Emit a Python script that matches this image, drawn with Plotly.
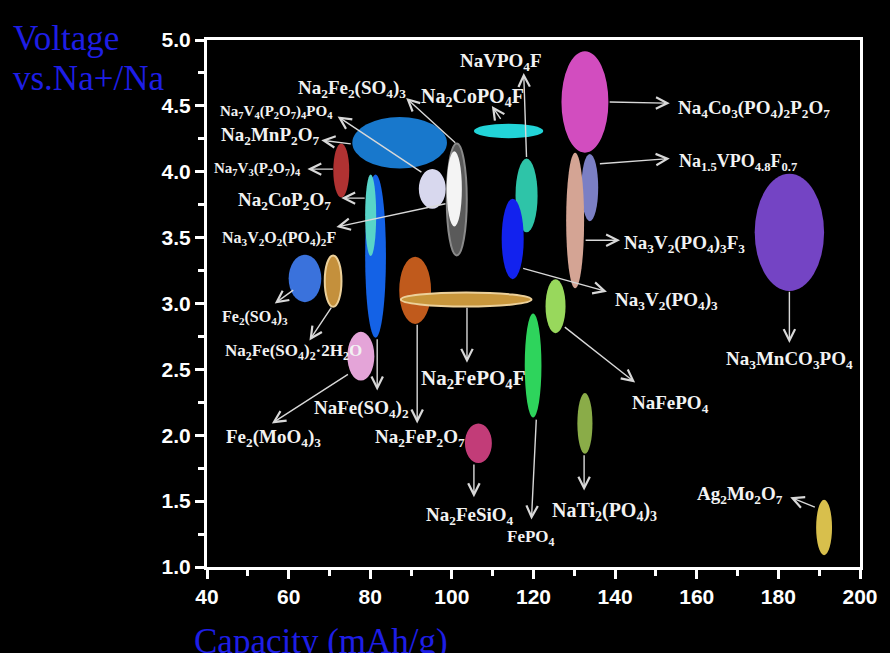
import plotly.graph_objects as go

# Sodium-ion electrode materials: capacity (mAh/g) vs. voltage (V vs. Na+/Na).
# Each material is drawn as an ellipse centred on its typical values, whose
# extents show the spread of capacity and voltage.
materials = [
    "Na4Co3(PO4)2P2O7", "Na1.5VPO4.8F0.7", "Na3V2(PO4)3F3", "Na3MnCO3PO4",
    "Na2CoPO4F", "NaVPO4F", "Na3V2(PO4)3", "NaFePO4", "FePO4", "NaTi2(PO4)3",
    "Ag2Mo2O7", "Na2FeSiO4", "Na2FeP2O7", "Na2FePO4F", "NaFe(SO4)2",
    "Na2CoP2O7", "Na2MnP2O7", "Na7V3(P2O7)4", "Na7V4(P2O7)4PO4",
    "Na2Fe2(SO4)3", "Na3V2O2(PO4)2F", "Fe2(SO4)3", "Na2Fe(SO4)2·2H2O",
    "Fe2(MoO4)3",
]
capacity = [132.6, 133.8, 130.2, 182.7, 113.9, 118.3, 114.9, 125.4, 119.9, 132.6,
            191.2, 106.5, 91.0, 103.5, 81.3, 80.1, 87.2, 72.9, 95.2, 101.2,
            100.6, 64.0, 70.9, 77.7]
voltage = [4.53, 3.88, 3.63, 3.54, 4.31, 3.82, 3.49, 2.98, 2.53, 2.09,
           1.30, 1.94, 3.10, 3.03, 3.36, 3.67, 4.22, 4.01, 3.87, 3.79,
           3.87, 3.19, 3.17, 2.60]
capacity_spread = [11.5, 4.1, 4.4, 17.0, 17.0, 5.4, 5.4, 4.9, 4.1, 3.7,
                   3.9, 6.6, 7.8, 32.0, 5.1, 2.7, 23.2, 3.9, 6.6, 4.9,
                   3.7, 8.0, 4.1, 6.6]
voltage_spread = [0.77, 0.51, 1.03, 0.89, 0.11, 0.56, 0.61, 0.41, 0.79, 0.46,
                  0.42, 0.30, 0.51, 0.106, 1.24, 0.62, 0.39, 0.41, 0.30, 0.85,
                  0.57, 0.36, 0.39, 0.37]

# Styling for each ellipse
fill_colors = ["#d24dbf", "#7b7fc4", "#d4a494", "#7444c4", "#22d4d8", "#2ec4a8",
               "#1222ee", "#98d85c", "#2ed45c", "#8aac48", "#d8bf4c", "#c23c78",
               "#c05a1c", "#c8963c", "#1462e6", "#58d4c8", "#1878cc", "#b03232",
               "#d8d8ee", "#5a5a5a", "#f4f4f4", "#3a72dc", "#c4903c", "#e4a4d8"]
edge_colors = {13: "#ecd09a", 22: "#ecd09a", 19: "#8a8a8a"}

# Formula labels (rich text) with their placement, font size and arrow geometry
label_text = [
    "Na<sub>4</sub>Co<sub>3</sub>(PO<sub>4</sub>)<sub>2</sub>P<sub>2</sub>O<sub>7</sub>",
    "Na<sub>1.5</sub>VPO<sub>4.8</sub>F<sub>0.7</sub>",
    "Na<sub>3</sub>V<sub>2</sub>(PO<sub>4</sub>)<sub>3</sub>F<sub>3</sub>",
    "Na<sub>3</sub>MnCO<sub>3</sub>PO<sub>4</sub>",
    "Na<sub>2</sub>CoPO<sub>4</sub>F",
    "NaVPO<sub>4</sub>F",
    "Na<sub>3</sub>V<sub>2</sub>(PO<sub>4</sub>)<sub>3</sub>",
    "NaFePO<sub>4</sub>",
    "FePO<sub>4</sub>",
    "NaTi<sub>2</sub>(PO<sub>4</sub>)<sub>3</sub>",
    "Ag<sub>2</sub>Mo<sub>2</sub>O<sub>7</sub>",
    "Na<sub>2</sub>FeSiO<sub>4</sub>",
    "Na<sub>2</sub>FeP<sub>2</sub>O<sub>7</sub>",
    "Na<sub>2</sub>FePO<sub>4</sub>F",
    "NaFe(SO<sub>4</sub>)<sub>2</sub>",
    "Na<sub>2</sub>CoP<sub>2</sub>O<sub>7</sub>",
    "Na<sub>2</sub>MnP<sub>2</sub>O<sub>7</sub>",
    "Na<sub>7</sub>V<sub>3</sub>(P<sub>2</sub>O<sub>7</sub>)<sub>4</sub>",
    "Na<sub>7</sub>V<sub>4</sub>(P<sub>2</sub>O<sub>7</sub>)<sub>4</sub>PO<sub>4</sub>",
    "Na<sub>2</sub>Fe<sub>2</sub>(SO<sub>4</sub>)<sub>3</sub>",
    "Na<sub>3</sub>V<sub>2</sub>O<sub>2</sub>(PO<sub>4</sub>)<sub>2</sub>F",
    "Fe<sub>2</sub>(SO<sub>4</sub>)<sub>3</sub>",
    "Na<sub>2</sub>Fe(SO<sub>4</sub>)<sub>2</sub>·2H<sub>2</sub>O",
    "Fe<sub>2</sub>(MoO<sub>4</sub>)<sub>3</sub>",
]
label_xy = [(174.0, 4.48), (170.0, 4.07), (156.95, 3.45), (182.8, 2.57),
            (105.0, 4.56), (112.0, 4.83), (152.6, 3.02), (153.5, 2.24),
            (119.4, 1.22), (137.4, 1.42), (170.6, 1.55), (104.4, 1.39),
            (92.2, 1.98), (105.4, 2.43), (77.8, 2.20), (59.0, 3.78),
            (55.4, 4.27), (52.4, 4.02), (57.0, 4.45), (75.5, 4.63),
            (57.7, 3.49), (51.7, 2.89), (61.2, 2.63), (56.2, 1.98)]
label_size = [19, 18, 19, 19, 20, 19, 19, 19, 17, 20, 19, 19,
              19, 21, 19, 19, 19, 15, 15, 19, 16, 16, 17, 19]
arrow_tail = [(138.3, 4.53), (135.9, 4.06), (132.4, 3.48), (182.7, 3.10),
              (112.2, 4.39), (118.3, 4.10), (117.1, 3.27), (127.3, 2.83),
              (120.7, 2.13), (132.4, 1.86), (189.3, 1.45), (105.4, 1.79),
              (91.5, 2.85), (103.7, 2.98), (81.7, 2.74), (79.0, 3.80),
              (75.6, 4.21), (71.2, 4.02), (92.9, 3.99), (101.2, 4.21),
              (98.8, 3.76), (61.5, 3.11), (70.7, 2.98), (74.9, 2.47)]
arrow_head = [(153.4, 4.52), (153.4, 4.10), (141.2, 3.48), (182.7, 2.70),
              (109.8, 4.50), (117.6, 4.75), (138.0, 3.09), (144.9, 2.40),
              (119.5, 1.36), (132.4, 1.58), (182.9, 1.53), (105.4, 1.53),
              (91.5, 2.09), (103.7, 2.55), (81.7, 2.34), (72.9, 3.80),
              (68.0, 4.24), (64.6, 4.02), (72.0, 4.42), (88.8, 4.56),
              (71.7, 3.58), (56.6, 3.00), (65.1, 2.72), (55.9, 2.09)]

x_range = [40, 200]
y_range = [1.0, 5.0]

fig = go.Figure()

# Invisible centre markers carry the hover information
fig.add_trace(go.Scatter(
    x=capacity, y=voltage, mode="markers",
    marker=dict(size=1, color="rgba(0,0,0,0)"),
    text=materials,
    hovertemplate="%{text}<br>%{x} mAh/g<br>%{y} V<extra></extra>",
    showlegend=False,
))

# Ellipses
for i in range(len(materials)):
    edge = edge_colors.get(i)
    fig.add_shape(
        type="circle", xref="x", yref="y",
        x0=capacity[i] - capacity_spread[i] / 2, x1=capacity[i] + capacity_spread[i] / 2,
        y0=voltage[i] - voltage_spread[i] / 2, y1=voltage[i] + voltage_spread[i] / 2,
        fillcolor=fill_colors[i],
        line=dict(color=edge if edge else fill_colors[i], width=2 if edge else 0),
        layer="above",
    )

# Arrows from each ellipse to its label
for (tx, ty), (hx, hy) in zip(arrow_tail, arrow_head):
    fig.add_annotation(
        x=hx, y=hy, ax=tx, ay=ty, xref="x", yref="y", axref="x", ayref="y",
        text="", showarrow=True, arrowhead=5, arrowsize=1.6, arrowwidth=1.4,
        arrowcolor="#d8d8d8", standoff=0, startstandoff=0,
    )

# Formula labels
for txt, (lx, ly), fs in zip(label_text, label_xy, label_size):
    fig.add_annotation(
        x=lx, y=ly, xref="x", yref="y", text=txt, showarrow=False,
        font=dict(family="Liberation Serif", size=fs, color="#f2f2f2", weight="bold"),
        xanchor="center", yanchor="middle",
    )

# Axis titles
title_font = dict(family="Liberation Serif", size=35, color="#1e1ee6")
fig.add_annotation(
    x=-0.300, y=1.043, xref="paper", yref="paper", xanchor="left", yanchor="top",
    text="Voltage", showarrow=False, font=title_font,
)
fig.add_annotation(
    x=-0.300, y=0.968, xref="paper", yref="paper", xanchor="left", yanchor="top",
    text="vs.Na+/Na", showarrow=False, font=title_font,
)
fig.add_annotation(
    x=-0.023, y=-0.100, xref="paper", yref="paper", xanchor="left", yanchor="top",
    text="Capacity (mAh/g)", showarrow=False, font=title_font,
)

axis_common = dict(
    showgrid=False, zeroline=False, showline=True, linecolor="white", linewidth=3,
    mirror=True, ticks="outside", ticklen=9, tickwidth=3, tickcolor="white",
    tickfont=dict(family="Liberation Sans", size=21, color="white", weight="bold"),
)
fig.update_xaxes(
    range=x_range, dtick=20, tick0=40,
    minor=dict(dtick=10, ticks="outside", ticklen=6, tickwidth=3, tickcolor="white"),
    **axis_common,
)
fig.update_yaxes(
    range=y_range, dtick=0.5, tick0=1.0, tickformat=".1f",
    minor=dict(dtick=0.25, ticks="outside", ticklen=6, tickwidth=3, tickcolor="white"),
    **axis_common,
)

fig.update_layout(
    width=890, height=653,
    margin=dict(l=207, r=27, t=40, b=86),
    paper_bgcolor="black", plot_bgcolor="black",
    showlegend=False,
)

fig.write_html("out.html")
